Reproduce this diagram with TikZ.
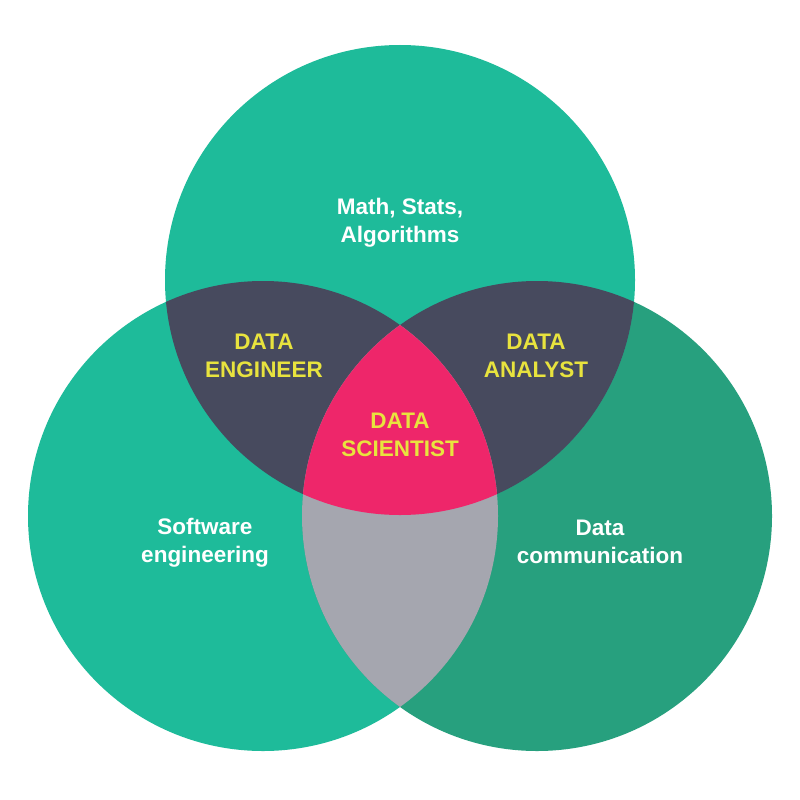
\documentclass[tikz,border=0pt]{standalone}
\usepackage{fontspec}
\setmainfont{Liberation Sans}
\definecolor{teal1}{HTML}{1EBB9A}
\definecolor{green2}{HTML}{27A07E}
\definecolor{darkslate}{HTML}{474A5E}
\definecolor{pinkc}{HTML}{EE266A}
\definecolor{grayc}{HTML}{A5A6AF}
\definecolor{yellowc}{HTML}{E8E33E}
\tikzset{
  lbl/.style={text=white, font=\bfseries\fontsize{22.5}{28}\selectfont, align=center, inner sep=0pt},
  role/.style={text=yellowc, font=\bfseries\fontsize{22.5}{28}\selectfont, align=center, inner sep=0pt}
}
\begin{document}
\begin{tikzpicture}[x=1pt,y=-1pt]
\useasboundingbox (0,0) rectangle (800,800);
\fill[white] (0,0) rectangle (800,800);
\def\R{235}
\coordinate (T) at (400,280);
\coordinate (L) at (263,516);
\coordinate (Rc) at (537,516);
\fill[teal1] (L) circle (\R);
\fill[green2] (Rc) circle (\R);
\fill[teal1] (T) circle (\R);
\begin{scope}
  \clip (T) circle (\R);
  \fill[darkslate] (L) circle (\R);
  \fill[darkslate] (Rc) circle (\R);
\end{scope}
\begin{scope}
  \clip (L) circle (\R);
  \fill[grayc] (Rc) circle (\R);
  \clip (Rc) circle (\R);
  \fill[pinkc] (T) circle (\R);
\end{scope}
\node[lbl] (math) at (400,223) {Math, Stats,\\Algorithms};
\node[role] (eng) at (264,356) {DATA\\ENGINEER};
\node[role] (ana) at (536,356) {DATA\\ANALYST};
\node[role] (sci) at (400,435) {DATA\\SCIENTIST};
\node[lbl] (soft) at (205,543) {Software\\engineering};
\node[lbl] (comm) at (600,542) {Data\\communication};
\end{tikzpicture}
\end{document}
